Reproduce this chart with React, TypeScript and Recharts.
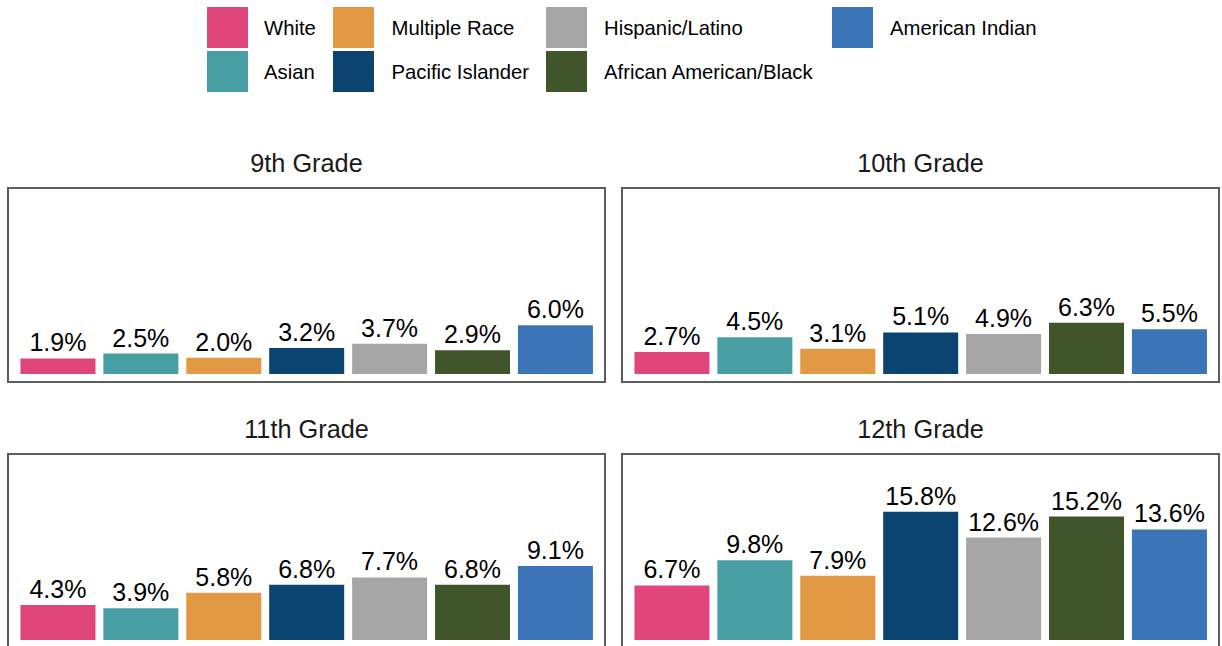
import React from "react";
import { BarChart, Bar, XAxis, YAxis, Cell, LabelList } from "recharts";

const categories = [
  "White",
  "Asian",
  "Multiple Race",
  "Pacific Islander",
  "Hispanic/Latino",
  "African American/Black",
  "American Indian",
];
const colors = ["#E0467A", "#489FA3", "#E39843", "#0B4470", "#A7A6A6", "#41552B", "#3B74B7"];
const grades = ["9th Grade", "10th Grade", "11th Grade", "12th Grade"];
const grade9 = [1.9, 2.5, 2.0, 3.2, 3.7, 2.9, 6.0];
const grade10 = [2.7, 4.5, 3.1, 5.1, 4.9, 6.3, 5.5];
const grade11 = [4.3, 3.9, 5.8, 6.8, 7.7, 6.8, 9.1];
const grade12 = [6.7, 9.8, 7.9, 15.8, 12.6, 15.2, 13.6];
const gradeValues = [grade9, grade10, grade11, grade12];

const FONT = '"Liberation Sans", Arial, Helvetica, sans-serif';
const PANEL_W = 597;
const PANEL_H = 194;
const panelPos = [
  { x: 8, y: 188 },
  { x: 622, y: 188 },
  { x: 8, y: 454 },
  { x: 622, y: 454 },
];

const legendKeyX = [207, 333, 546, 832];
const legendTextX = [264, 391.5, 604, 890];
const legendKeyY = [7, 51];
const legendTextY = [35, 79];

function Panel({ title, values, x, y }: { title: string; values: number[]; x: number; y: number }) {
  const data = categories.map((c, i) => ({ race: c, value: values[i] }));
  return (
    <>
      <svg
        width={PANEL_W}
        height={40}
        style={{ position: "absolute", left: x, top: y - 40, overflow: "visible" }}
      >
        <text
          x={PANEL_W / 2}
          y={24.3}
          textAnchor="middle"
          fontFamily={FONT}
          fontSize={25.3}
          fill="#1a1a1a"
        >
          {title}
        </text>
      </svg>
      <div style={{ position: "absolute", left: x, top: y }}>
        <BarChart
          width={PANEL_W}
          height={PANEL_H}
          data={data}
          margin={{ top: 0, right: 8.3, bottom: 0, left: 8.3 }}
          barCategoryGap="5%"
        >
          <XAxis dataKey="race" type="category" hide />
          <YAxis type="number" domain={[-1, 22.9]} allowDataOverflow hide />
          <Bar dataKey="value" isAnimationActive={false}>
            {data.map((d, i) => (
              <Cell key={d.race} fill={colors[i]} />
            ))}
            <LabelList
              dataKey="value"
              position="top"
              offset={7}
              formatter={(v: any) => `${Number(v).toFixed(1)}%`}
              fill="#000"
              fontSize={25}
              fontFamily={FONT}
            />
          </Bar>
        </BarChart>
      </div>
      <div
        style={{
          position: "absolute",
          left: x - 1,
          top: y - 1,
          width: PANEL_W + 2,
          height: PANEL_H + 2,
          boxSizing: "border-box",
          border: "2px solid #5c5c5c",
          pointerEvents: "none",
        }}
      />
    </>
  );
}

export default function App() {
  return (
    <div
      style={{
        position: "absolute",
        left: 0,
        top: 0,
        width: 1222,
        height: 646,
        overflow: "hidden",
        background: "#fff",
      }}
    >
      <svg width={1222} height={100} style={{ position: "absolute", left: 0, top: 0 }}>
        {categories.map((c, i) => {
          const col = Math.floor(i / 2);
          const row = i % 2;
          return (
            <g key={c}>
              <rect x={legendKeyX[col]} y={legendKeyY[row]} width={41} height={41} fill={colors[i]} />
              <text x={legendTextX[col]} y={legendTextY[row]} fontFamily={FONT} fontSize={20.3} fill="#000">
                {c}
              </text>
            </g>
          );
        })}
      </svg>
      {panelPos.map((p, i) => (
        <Panel key={grades[i]} title={grades[i]} values={gradeValues[i]} x={p.x} y={p.y} />
      ))}
    </div>
  );
}
